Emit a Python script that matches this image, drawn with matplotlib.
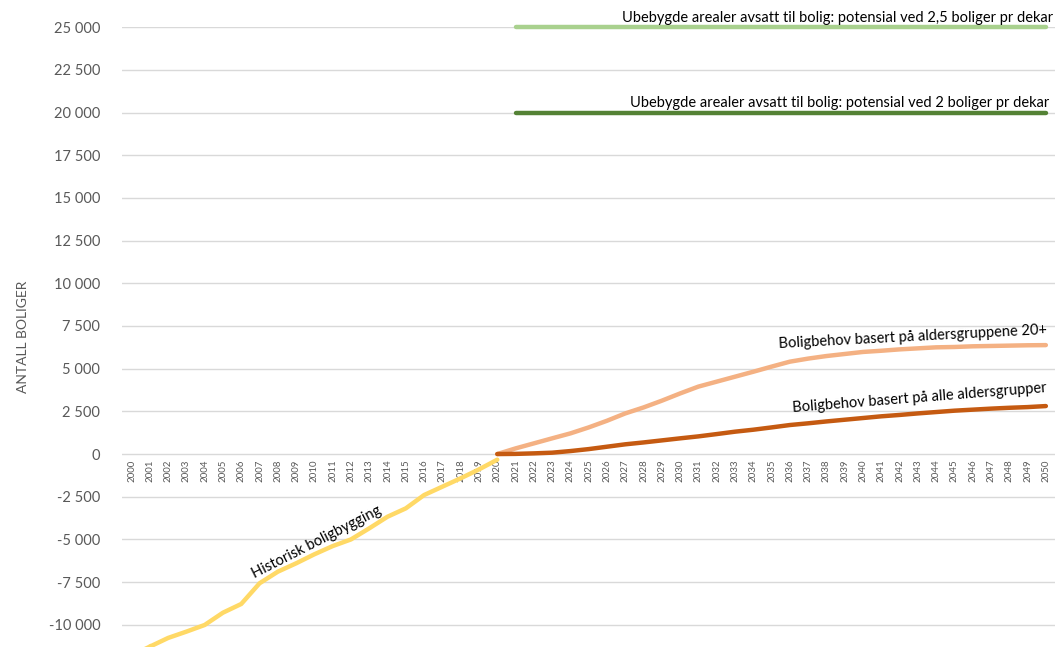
import matplotlib.pyplot as plt
import matplotlib.ticker as mticker

plt.rcParams["font.family"] = ["Lato", "DejaVu Sans"]

# --- Data -----------------------------------------------------------------
years = list(range(2000, 2051))

hist_years = list(range(2000, 2021))
hist_values = [-11800, -11280, -10770, -10400, -10010, -9290, -8780, -7570,
               -6890, -6400, -5870, -5390, -5000, -4350, -3670, -3180,
               -2400, -1910, -1420, -900, -330]

proj_years = list(range(2020, 2051))
need_20plus = [0, 330, 625, 920, 1210, 1560, 1950, 2380, 2730, 3125, 3550,
               3950, 4240, 4530, 4820, 5120, 5410, 5590, 5740, 5860, 5980,
               6050, 6130, 6190, 6250, 6270, 6310, 6330, 6350, 6370, 6380]
need_all = [0, 10, 40, 80, 175, 290, 430, 570, 680, 800, 920,
            1035, 1170, 1310, 1425, 1560, 1700, 1800, 1910, 2010, 2110,
            2210, 2290, 2380, 2460, 2540, 2600, 2660, 2710, 2750, 2810]

pot_years = list(range(2021, 2051))
pot_25 = [25000] * len(pot_years)
pot_20 = [20000] * len(pot_years)

# --- Figure ----------------------------------------------------------------
fig = plt.figure(figsize=(10.55, 6.47), dpi=100)
ax = fig.add_axes([0.116, 0.0, 0.884, 0.958])

grey = "#595959"
for v in range(-10000, 25001, 2500):
    ax.axhline(v, color="#d9d9d9", lw=1.0, zorder=0)

line_kw = dict(lw=3.2, solid_capstyle="round", zorder=3, clip_on=False)
ax.plot(hist_years[1:], hist_values[1:], color="#ffd966", **line_kw)
# first segment runs below the visible area, keep it clipped
ax.plot(hist_years[:2], hist_values[:2], color="#ffd966", lw=3.2, zorder=3)
ax.plot(proj_years, need_20plus, color="#f4b183", **line_kw)
ax.plot(proj_years, need_all, color="#c55a11", **line_kw)
ax.plot(pot_years, pot_25, color="#a9d18e", **line_kw)
ax.plot(pot_years, pot_20, color="#548235", **line_kw)

ax.set_xlim(1999.5, 2050.5)
ax.set_ylim(-11300, 25000)

# category labels sit on the zero line, like an axis crossing at 0
ax.spines["bottom"].set_position(("data", 0))
for s in ax.spines.values():
    s.set_visible(False)
ax.set_xticks(years)
ax.set_xticklabels([str(y) for y in years], rotation=90, fontsize=7, color=grey)
ax.tick_params(axis="x", length=0, pad=4)

ax.set_yticks(range(-10000, 25001, 2500))
ax.yaxis.set_major_formatter(
    mticker.FuncFormatter(lambda v, _: f"{int(v):,}".replace(",", " ")))
ax.tick_params(axis="y", length=0, pad=16, labelsize=10.5, labelcolor=grey)
ax.set_ylabel("ANTALL BOLIGER", fontsize=10, color=grey, labelpad=14)

# line labels
ax.text(2050.4, 25150, "Ubebygde arealer avsatt til bolig: potensial ved 2,5 boliger pr dekar",
        ha="right", va="bottom", fontsize=10.5, color="black")
ax.text(2050.2, 20150, "Ubebygde arealer avsatt til bolig: potensial ved 2 boliger pr dekar",
        ha="right", va="bottom", fontsize=10.5, color="black")
ax.text(2042.7, 6850, "Boligbehov basert på aldersgruppene 20+",
        ha="center", va="center", rotation=3, fontsize=10.5, color="black")
ax.text(2043.1, 3280, "Boligbehov basert på alle aldersgrupper",
        ha="center", va="center", rotation=4.5, fontsize=10.5, color="black")
ax.text(2010.1, -5150, "Historisk boligbygging",
        ha="center", va="center", rotation=27, fontsize=10.5, color="black")

fig.savefig("out.png", dpi=100)
